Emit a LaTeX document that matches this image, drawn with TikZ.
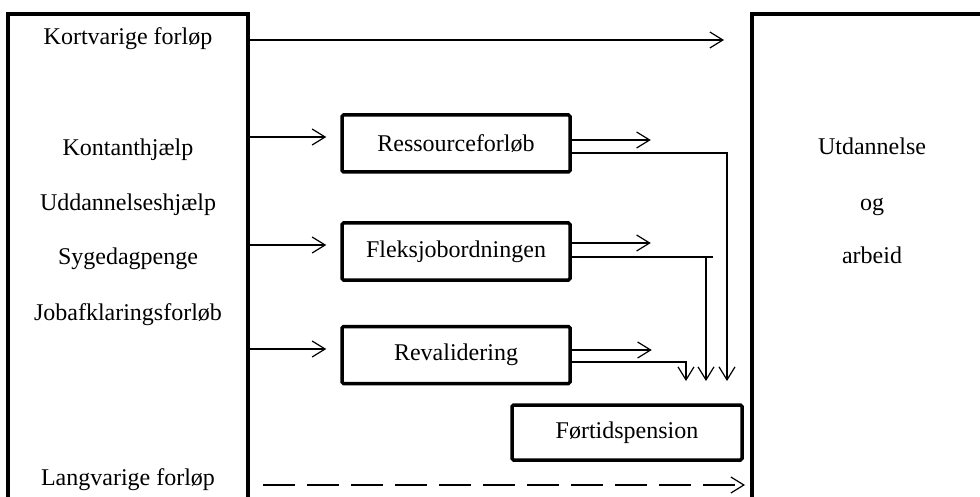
\documentclass[tikz,border=0pt]{standalone}
\usepackage{fontspec}
\setmainfont{Liberation Serif}
\usetikzlibrary{arrows.meta}
\begin{document}
\begin{tikzpicture}[x=1pt,y=-1pt,
  frame/.style={line width=3.5pt, line join=miter},
  stage/.style={draw, line width=3.5pt, rounded corners=1.5pt,
    minimum width=228pt, minimum height=57pt, inner sep=0pt,
    font=\fontsize{24}{28}\selectfont},
  lbl/.style={inner sep=0pt, anchor=base, font=\fontsize{24}{28}\selectfont},
  barb/.tip={Straight Barb[length=13pt,width=16pt,line width=1.2pt]},
  flow/.style={line width=1.2pt, -barb},
  feed/.style={line width=1.4pt},
]
\useasboundingbox (0,0) rectangle (980,497);
\fill[white] (0,0) rectangle (980,497);

% outer frames (open towards the bottom / right)
\draw[frame] (8,510) -- (8,14) -- (248,14) -- (248,510);
\draw[frame] (752,510) -- (752,14) -- (995,14);

% left column labels
\node[lbl] (kort) at (128,45) {Kortvarige forløp};
\node[lbl] (kont) at (128,156) {Kontanthjælp};
\node[lbl] (udd)  at (128,211) {Uddannelseshjælp};
\node[lbl] (syg)  at (128,265) {Sygedagpenge};
\node[lbl] (job)  at (128,320) {Jobafklaringsforløb};
\node[lbl] (lang) at (128,485) {Langvarige forløp};

% right column labels
\node[lbl] (utd) at (872,155) {Utdannelse};
\node[lbl] (og)  at (872,211) {og};
\node[lbl] (arb) at (872,264) {arbeid};

% intermediate schemes
\node[stage] (res)   at (456,143.5) {Ressourceforløb};
\node[stage] (flex)  at (456,251.5) {Fleksjobordningen};
\node[stage] (reval) at (456,355)   {Revalidering};
\node[stage, minimum width=230pt, minimum height=55pt] (ftp) at (627,432.5) {Førtidspension};

% anchor points on the frames
\coordinate (Lk) at (248,40);
\coordinate (Rk) at (752,40);
\coordinate (Lr) at (248,137);
\coordinate (Lf) at (248,245);
\coordinate (Lv) at (248,349);
\coordinate (Ll) at (248,485);
\coordinate (Rl) at (752,485);

% short-term flow straight across
\draw[flow, shorten >=28pt] (Lk) -- (Rk);

% into the schemes
\draw[flow, shorten >=14pt] (Lr) -- (Lr -| res.west);
\draw[flow, shorten >=14pt] (Lf) -- (Lf -| flex.west);
\draw[flow, shorten >=14pt] (Lv) -- (Lv -| reval.west);

% out of the schemes towards work / education
\draw[flow] ([yshift=3.5pt]res.east) -- ++(79,0);
\draw[flow] ([yshift=8.5pt]flex.east) -- ++(79,0);
\draw[flow] ([yshift=5pt]reval.east) -- ++(80,0);

% out of the schemes towards disability pension
\coordinate (d1) at (727,381);
\coordinate (d2) at (706,381);
\coordinate (d3) at (686,381);
\draw[feed, -barb] ([yshift=-9.5pt]res.east) -| (d1);
\draw[feed] ([yshift=-5.5pt]flex.east) -- ++(141,0);
\draw[feed, -barb] (d2 |- 0,257) -- (d2);
\draw[feed, -barb] ([yshift=-7pt]reval.east) -| (d3);

% long-term flow
\draw[flow, dash pattern=on 32pt off 12pt, shorten <=15pt, shorten >=7pt] (Ll) -- (Rl);
\end{tikzpicture}
\end{document}
